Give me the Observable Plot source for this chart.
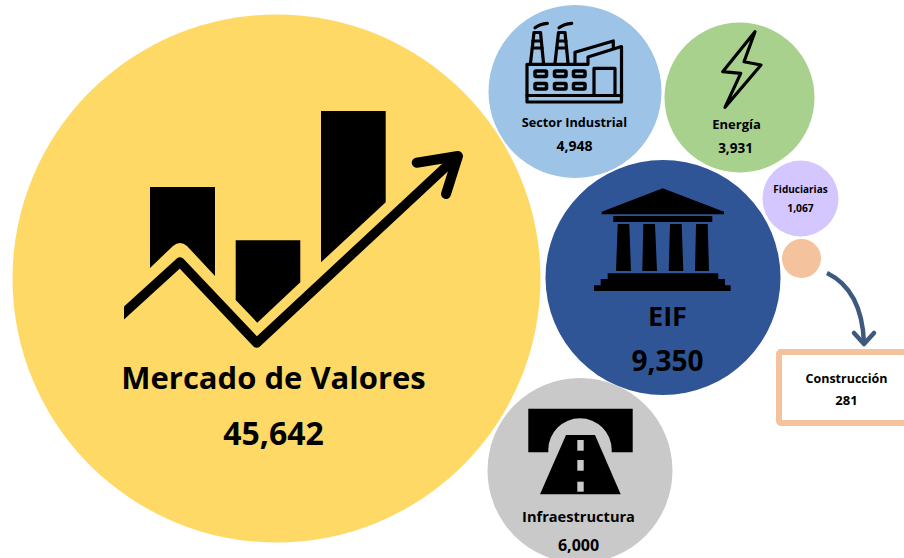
<!DOCTYPE html>
<html>
<head>
<meta charset="utf-8">
<script src="https://cdn.jsdelivr.net/npm/d3@7"></script>
<script src="https://cdn.jsdelivr.net/npm/@observablehq/plot@0.6"></script>
<style>html,body{margin:0;padding:0;background:#fff;overflow:hidden}svg{display:block}</style>
</head>
<body>
<div id="chart"></div>
<script>
const categories = ["Mercado de Valores", "Sector Industrial", "Energía", "EIF", "Fiduciarias", "Construcción", "Infraestructura"];
const values = [45642, 4948, 3931, 9350, 1067, 281, 6000];
const colors = ["#FFD966", "#9DC3E6", "#A9D18E", "#2F5597", "#D4C6FF", "#F4C39E", "#C9C9C9"];
const layoutX = [276, 574.5, 739, 662.5, 800, 801, 579.5];
const layoutY = [278, 91, 97, 277, 198, 258, 470];
const labelX = [273, 574, 736, 667, 800, 846, 578];
const labelY = [379, 122, 124, 317, 189, 378, 517];
const amountX = [273, 574, 735, 667, 800, 846, 578];
const amountY = [434, 146, 148, 362, 208, 400, 545];
const labelSize = [31, 12.7, 13, 27, 10, 12.5, 14.6];
const amountSize = [32, 14, 13.5, 28, 10.3, 13, 16];

const bubbles = categories.map((name, i) => ({
  name, value: values[i], color: colors[i], x: layoutX[i], y: layoutY[i],
  lx: labelX[i], ly: labelY[i], ax: amountX[i], ay: amountY[i], ls: labelSize[i], as: amountSize[i]
}));
const fmt = d3.format(",");
const font = "'Open Sans', 'Noto Sans', sans-serif";

const icons = () => {
  const g = d3.create("svg:g");
  const defs = g.append("defs");
  defs.append("clipPath").attr("id", "clipGrowth").append("rect").attr("x", 124).attr("y", 100).attr("width", 360).attr("height", 260);
  const fill = (d, c = "#000") => g.append("path").attr("d", d).attr("fill", c);
  const line = (d, w, cap = "round", c = "#000", clip) => {
    const p = g.append("path").attr("d", d).attr("fill", "none").attr("stroke", c).attr("stroke-width", w)
      .attr("stroke-linecap", cap).attr("stroke-linejoin", "round");
    if (clip) p.attr("clip-path", `url(#${clip})`);
    return p;
  };
  // growth chart
  fill("M150 187H215V276L187 246Q180 240 173 246L150 268Z");
  fill("M235.7 240.3H300.3V282.3L257.3 322.7L235.7 300Z");
  fill("M321 111H385.7V202.3L321 262.3Z");
  line("M110 325.8L180 262L256.7 343L456.7 156.7", 9.5, "round", "#000", "clipGrowth");
  line("M416.7 162.7L458 156L446 194", 10);
  // factory
  line("M527 64.3V102H621.5V46.5L588 57V64.3H527", 3.2);
  line("M575 63V52.3L613.3 41V48.5", 3.2);
  line("M527 95.5H621.5", 3.2);
  line("M594 95V68.3H615V95", 3.2);
  for (const x0 of [530.5, 555]) {
    line(`M${x0} 63L${x0 + 3.5} 32.5H${x0 + 10}L${x0 + 13} 63`, 3.2);
    line(`M${x0 + 2.5} 41H${x0 + 11}M${x0 + 2} 48H${x0 + 11.5}`, 3.2);
  }
  line("M535 27.7Q540 24 547.3 23.3M559 27.7Q564 24 571.7 23.3", 3.2);
  for (const x0 of [535, 554.5, 573.5]) for (const y0 of [71, 83.5]) {
    g.append("rect").attr("x", x0).attr("y", y0).attr("width", 11.5).attr("height", 5.5).attr("rx", 1)
      .attr("fill", "none").attr("stroke", "#000").attr("stroke-width", 3.5);
  }
  // lightning
  g.append("path").attr("d", "M755 31.7L722.7 71.7L740.7 73.3L725 107.3L761 65L744 61.7Z")
    .attr("fill", "none").attr("stroke", "#000").attr("stroke-width", 3.2).attr("stroke-linejoin", "round");
  // temple
  fill("M662.7 188.3L724 211.7V214.3H601.7V211.7Z");
  fill("M613.3 216H712.3V222H613.3Z");
  fill("M617.7 224H629.3L631 271H616Z");
  fill("M643.3 224H655L657 271H642.3Z");
  fill("M670 224H681.7L683.3 271H668.7Z");
  fill("M696 224H707.7L709 271H695Z");
  fill("M607.7 273.3H718.3V279H725V285.3H730.7V291H594V285.3H600.7V279H607.7Z");
  // road
  fill("M528.3 408.7H632.7V452.3H611.7V450A31.7 31.7 0 0 0 548.3 450V452.3H528.3Z");
  fill("M566 435H595L620.7 494.3H540Z");
  for (const [a, b] of [[440, 450.7], [460, 470.7], [481.7, 491.7]]) {
    g.append("rect").attr("x", 577.3).attr("y", a).attr("width", 6.4).attr("height", b - a).attr("fill", "#C9C9C9");
  }
  // callout arrow
  line("M827 273Q862 290 864 343", 4.5, "butt", "#3D5A7E");
  line("M854 333L864 344L874 333", 4.5, "round", "#3D5A7E");
  return g.node();
};

const chart = Plot.plot({
  width: 904,
  height: 558,
  margin: 0,
  x: {domain: [0, 904], range: [0, 904], axis: null},
  y: {domain: [0, 558], range: [0, 558], axis: null},
  r: {type: "sqrt", domain: [0, 281, 1067, 3931, 4948, 6000, 9350, 45642], range: [0, 19.5, 38, 75, 86.5, 92.5, 117.5, 264]},
  style: {background: "#fff"},
  marks: [
    Plot.dot(bubbles, {x: "x", y: "y", r: "value", fill: "color", stroke: "#fff", strokeWidth: 0}),
    Plot.rect([{x1: 779, x2: 920, y1: 352, y2: 423}], {x1: "x1", x2: "x2", y1: "y1", y2: "y2", fill: "#fff", stroke: "#F4C39E", strokeWidth: 6, rx: 2}),
    icons,
    Plot.text(bubbles, {x: "lx", y: "ly", text: "name", fontSize: "ls", fontFamily: font, fontWeight: 700, fill: "#000", textAnchor: "middle", lineAnchor: "middle"}),
    Plot.text(bubbles, {x: "ax", y: "ay", text: d => fmt(d.value), fontSize: "as", fontFamily: font, fontWeight: 700, fill: "#000", textAnchor: "middle", lineAnchor: "middle"})
  ]
});
document.getElementById("chart").appendChild(chart);
</script>
</body>
</html>
